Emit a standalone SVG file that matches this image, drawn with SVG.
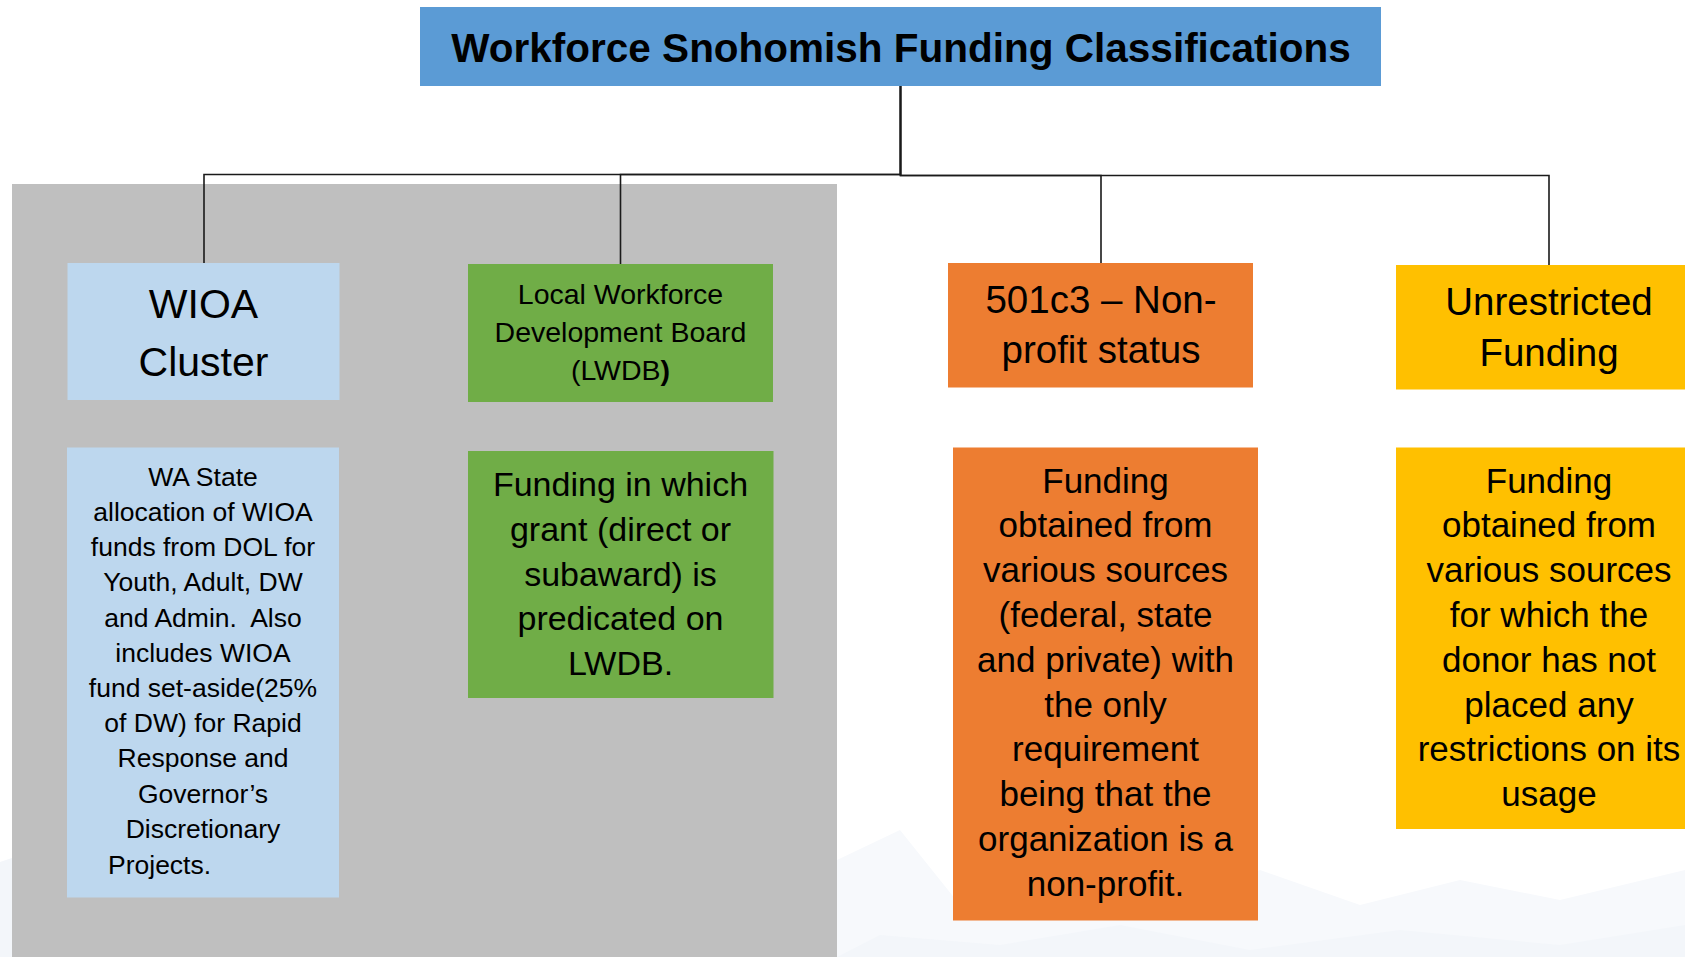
<svg xmlns="http://www.w3.org/2000/svg" width="1685" height="957" viewBox="0 0 1685 957">
<style>
text{font-family:"Liberation Sans",Arial,sans-serif;fill:#000;text-anchor:middle}
.title{font-weight:bold;font-size:40.5px}
.h1{font-size:41px}
.h2{font-size:28.5px}
.h3{font-size:38.5px}
.d1{font-size:26.5px}
.d2{font-size:34px}
.d3{font-size:35px}
.conn{fill:none;stroke:#1a1a1a;stroke-width:1.6}
.wm{fill:#F7F9FC}
.wm2{fill:#F3F6FA}
</style>
<rect width="1685" height="957" fill="#ffffff"/>
<g id="watermark">
<polygon class="wm2" points="0,862 12,858 12,957 0,957"/>
<polygon class="wm" points="837,957 837,860 900,830 960,905 1070,880 1160,900 1260,870 1360,905 1460,880 1560,900 1685,870 1685,957"/>
<polygon class="wm2" points="837,957 880,935 1000,945 1120,925 1250,950 1400,930 1560,945 1685,925 1685,957"/>
</g>
<rect id="wioa-group-bg" x="12" y="184" width="825" height="773" fill="#BFBFBF"/>
<g id="connectors">
<path class="conn" d="M900.5,86 V174.5 H204 V263"/>
<path class="conn" d="M900.5,86 V174.5 H620.5 V264"/>
<path class="conn" d="M900.5,86 V175.5 H1101 V263"/>
<path class="conn" d="M900.5,86 V175.5 H1549 V265"/>
</g>
<g id="title">
<rect x="420" y="7" width="961" height="79" fill="#5B9BD5"/>
<text class="title" x="901" y="62">Workforce Snohomish Funding Classifications</text>
</g>
<g id="wioa">
<rect x="67.5" y="263" width="272" height="137" fill="#BDD7EE"/>
<text class="h1" x="203.5" y="318">WIOA</text>
<text class="h1" x="203.5" y="375.5">Cluster</text>
</g>
<g id="lwdb">
<rect x="468" y="264" width="305" height="138" fill="#70AD47"/>
<text class="h2" x="620.5" y="304">Local Workforce</text>
<text class="h2" x="620.5" y="342">Development Board</text>
<text class="h2" x="620.5" y="380">(LWDB<tspan font-weight="bold">)</tspan></text>
</g>
<g id="nonprofit">
<rect x="948" y="263" width="305" height="124.5" fill="#ED7D31"/>
<text class="h3" x="1101" y="313">501c3 – Non-</text>
<text class="h3" x="1101" y="363">profit status</text>
</g>
<g id="unrestricted">
<rect x="1396" y="265" width="289" height="124.5" fill="#FFC000"/>
<text class="h3" x="1549" y="315">Unrestricted</text>
<text class="h3" x="1549" y="365.5">Funding</text>
</g>
<g id="wioa-desc">
<rect x="67" y="447.5" width="272" height="450" fill="#BDD7EE"/>
<text class="d1" x="203" y="485.8">WA State</text>
<text class="d1" x="203" y="521">allocation of WIOA</text>
<text class="d1" x="203" y="556.2">funds from DOL for</text>
<text class="d1" x="203" y="591.4">Youth, Adult, DW</text>
<text class="d1" x="203" y="626.6" xml:space="preserve">and Admin.  Also</text>
<text class="d1" x="203" y="661.8">includes WIOA</text>
<text class="d1" x="203" y="697">fund set-aside(25%</text>
<text class="d1" x="203" y="732.2">of DW) for Rapid</text>
<text class="d1" x="203" y="767.4">Response and</text>
<text class="d1" x="203" y="802.6">Governor’s</text>
<text class="d1" x="203" y="837.8">Discretionary</text>
<text class="d1" x="108" y="874.3" style="text-anchor:start">Projects.</text>
</g>
<g id="lwdb-desc">
<rect x="468" y="451" width="305.5" height="247" fill="#70AD47"/>
<text class="d2" x="620.5" y="496">Funding in which</text>
<text class="d2" x="620.5" y="540.75">grant (direct or</text>
<text class="d2" x="620.5" y="585.5">subaward) is</text>
<text class="d2" x="620.5" y="630.25">predicated on</text>
<text class="d2" x="620.5" y="675">LWDB.</text>
</g>
<g id="nonprofit-desc">
<rect x="953" y="447.5" width="305" height="473" fill="#ED7D31"/>
<text class="d3" x="1105.5" y="492.6">Funding</text>
<text class="d3" x="1105.5" y="537.4">obtained from</text>
<text class="d3" x="1105.5" y="582.2">various sources</text>
<text class="d3" x="1105.5" y="627">(federal, state</text>
<text class="d3" x="1105.5" y="671.8">and private) with</text>
<text class="d3" x="1105.5" y="716.6">the only</text>
<text class="d3" x="1105.5" y="761.4">requirement</text>
<text class="d3" x="1105.5" y="806.2">being that the</text>
<text class="d3" x="1105.5" y="851">organization is a</text>
<text class="d3" x="1105.5" y="895.8">non-profit.</text>
</g>
<g id="unrestricted-desc">
<rect x="1396" y="447.5" width="289" height="381.5" fill="#FFC000"/>
<text class="d3" x="1549" y="492.6">Funding</text>
<text class="d3" x="1549" y="537.4">obtained from</text>
<text class="d3" x="1549" y="582.2">various sources</text>
<text class="d3" x="1549" y="627">for which the</text>
<text class="d3" x="1549" y="671.8">donor has not</text>
<text class="d3" x="1549" y="716.6">placed any</text>
<text class="d3" x="1549" y="761.4">restrictions on its</text>
<text class="d3" x="1549" y="806.2">usage</text>
</g>
</svg>
